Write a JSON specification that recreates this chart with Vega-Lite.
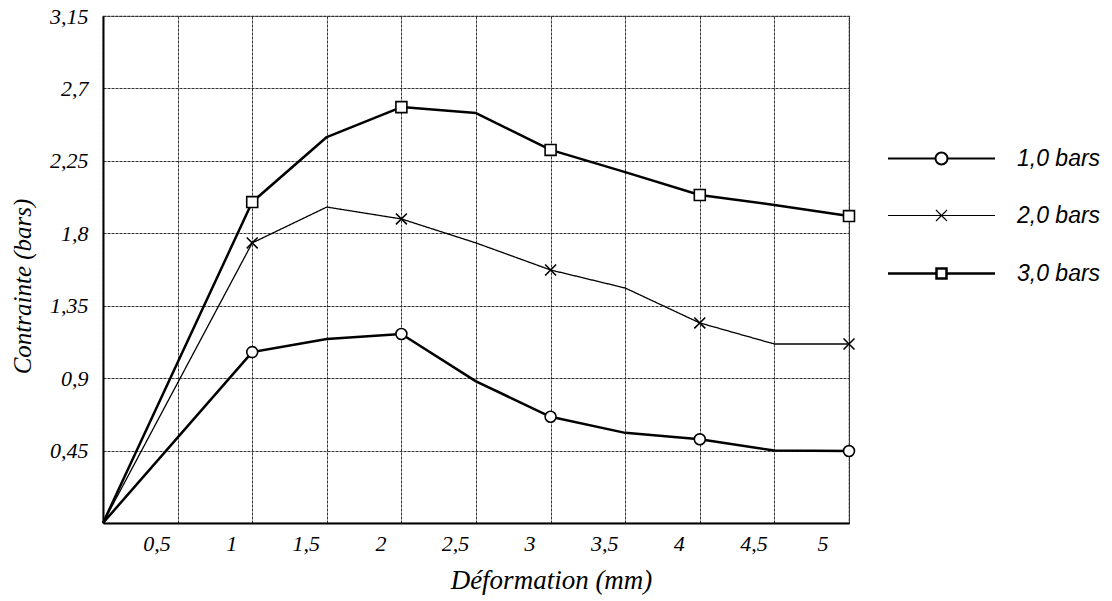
{
  "$schema": "https://vega.github.io/schema/vega-lite/v6.json",
  "width": 746,
  "height": 507,
  "autosize": {"type": "none"},
  "padding": {"left": 103, "top": 16, "right": 263, "bottom": 78},
  "background": "white",
  "config": {
    "view": {"stroke": "#333", "strokeWidth": 1.2, "strokeDash": [3, 1]},
    "legend": {
      "orient": "none",
      "legendX": 827,
      "padding": 0,
      "title": null,
      "symbolSize": 100,
      "symbolStrokeColor": "#000",
      "symbolFillColor": "white",
      "symbolOpacity": 1,
      "labelOffset": 64,
      "labelFont": "Liberation Sans",
      "labelFontStyle": "italic",
      "labelFontSize": 23,
      "labelColor": "#000"
    }
  },
  "data": {
    "values": [
      {"x": 0, "y": 0, "series": "1,0 bars"},
      {"x": 1, "y": 1.062, "series": "1,0 bars"},
      {"x": 1.5, "y": 1.143, "series": "1,0 bars"},
      {"x": 2, "y": 1.174, "series": "1,0 bars"},
      {"x": 2.5, "y": 0.88, "series": "1,0 bars"},
      {"x": 3, "y": 0.66, "series": "1,0 bars"},
      {"x": 3.5, "y": 0.56, "series": "1,0 bars"},
      {"x": 4, "y": 0.52, "series": "1,0 bars"},
      {"x": 4.5, "y": 0.45, "series": "1,0 bars"},
      {"x": 5, "y": 0.447, "series": "1,0 bars"},
      {"x": 0, "y": 0, "series": "2,0 bars"},
      {"x": 1, "y": 1.74, "series": "2,0 bars"},
      {"x": 1.5, "y": 1.963, "series": "2,0 bars"},
      {"x": 2, "y": 1.889, "series": "2,0 bars"},
      {"x": 2.5, "y": 1.74, "series": "2,0 bars"},
      {"x": 3, "y": 1.572, "series": "2,0 bars"},
      {"x": 3.5, "y": 1.46, "series": "2,0 bars"},
      {"x": 4, "y": 1.243, "series": "2,0 bars"},
      {"x": 4.5, "y": 1.112, "series": "2,0 bars"},
      {"x": 5, "y": 1.112, "series": "2,0 bars"},
      {"x": 0, "y": 0, "series": "3,0 bars"},
      {"x": 1, "y": 1.994, "series": "3,0 bars"},
      {"x": 1.5, "y": 2.398, "series": "3,0 bars"},
      {"x": 2, "y": 2.584, "series": "3,0 bars"},
      {"x": 2.5, "y": 2.547, "series": "3,0 bars"},
      {"x": 3, "y": 2.318, "series": "3,0 bars"},
      {"x": 3.5, "y": 2.18, "series": "3,0 bars"},
      {"x": 4, "y": 2.038, "series": "3,0 bars"},
      {"x": 4.5, "y": 1.976, "series": "3,0 bars"},
      {"x": 5, "y": 1.907, "series": "3,0 bars"}
    ]
  },
  "encoding": {
    "x": {
      "field": "x",
      "type": "quantitative",
      "scale": {"domain": [0, 5], "nice": false, "zero": false},
      "axis": {
        "values": [0.5, 1, 1.5, 2, 2.5, 3, 3.5, 4, 4.5, 5],
        "labelExpr": "replace(toString(datum.value), '.', ',')",
        "labelOffset": -21,
        "labelOverlap": false,
        "ticks": false,
        "domain": true,
        "domainColor": "#000",
        "domainWidth": 2,
        "grid": true,
        "gridColor": "#333",
        "gridDash": [3, 1],
        "gridWidth": 1,
        "gridOpacity": 1,
        "labelFont": "Liberation Serif",
        "labelFontStyle": "italic",
        "labelFontSize": 22,
        "labelColor": "#000",
        "labelPadding": 10,
        "title": "Déformation (mm)",
        "titleFont": "Liberation Serif",
        "titleFontStyle": "italic",
        "titleFontWeight": "normal",
        "titleFontSize": 27,
        "titleColor": "#000",
        "titleX": 448,
        "titleY": 57,
        "titleAlign": "center",
        "titleBaseline": "middle"
      }
    },
    "y": {
      "field": "y",
      "type": "quantitative",
      "scale": {"domain": [0, 3.15], "nice": false},
      "axis": {
        "values": [0.45, 0.9, 1.35, 1.8, 2.25, 2.7, 3.15],
        "labelExpr": "replace(toString(datum.value), '.', ',')",
        "labelOverlap": false,
        "ticks": false,
        "domain": true,
        "domainColor": "#000",
        "domainWidth": 2,
        "grid": true,
        "gridColor": "#333",
        "gridDash": [3, 1],
        "gridWidth": 1,
        "gridOpacity": 1,
        "labelFont": "Liberation Serif",
        "labelFontStyle": "italic",
        "labelFontSize": 22,
        "labelColor": "#000",
        "labelPadding": 15,
        "title": "Contrainte (bars)",
        "titleFont": "Liberation Serif",
        "titleFontStyle": "italic",
        "titleFontWeight": "normal",
        "titleFontSize": 25,
        "titleColor": "#000",
        "titleX": -81,
        "titleY": 270,
        "titleAngle": -90,
        "titleAlign": "center",
        "titleBaseline": "middle"
      }
    }
  },
  "layer": [
    {
      "transform": [{"filter": "datum.series === '1,0 bars'"}],
      "mark": {"type": "line", "color": "#000", "strokeWidth": 2.5, "strokeJoin": "round"},
      "encoding": {
        "opacity": {
          "field": "series",
          "type": "nominal",
          "scale": {"type": "ordinal", "domain": ["1,0 bars"], "range": [1]},
          "legend": {
            "orient": "none",
            "legendX": 827,
            "legendY": 131,
            "symbolType": "M-10.7,0L-1.2,0M1.2,0L10.7,0M-1.2,0A1.2,1.2 0 1,0 1.2,0A1.2,1.2 0 1,0 -1.2,0",
            "symbolStrokeWidth": 2
          }
        }
      }
    },
    {
      "transform": [{"filter": "datum.series === '2,0 bars'"}],
      "mark": {"type": "line", "color": "#000", "strokeWidth": 1.3, "strokeJoin": "round"},
      "encoding": {
        "strokeDash": {
          "field": "series",
          "type": "nominal",
          "scale": {"type": "ordinal", "domain": ["2,0 bars"], "range": [[1, 0]]},
          "legend": {
            "orient": "none",
            "legendX": 827,
            "legendY": 188,
            "symbolType": "M-10.7,0L10.7,0M-1.1,-1.1L1.1,1.1M-1.1,1.1L1.1,-1.1",
            "symbolStrokeWidth": 1.2
          }
        }
      }
    },
    {
      "transform": [{"filter": "datum.series === '3,0 bars'"}],
      "mark": {"type": "line", "color": "#000", "strokeJoin": "round"},
      "encoding": {
        "strokeWidth": {
          "field": "series",
          "type": "nominal",
          "scale": {"type": "ordinal", "domain": ["3,0 bars"], "range": [2.5]},
          "legend": {
            "orient": "none",
            "legendX": 827,
            "legendY": 246,
            "symbolType": "M-10.7,0L-1,0M1,0L10.7,0M-1,-1L1,-1L1,1L-1,1Z"
          }
        }
      }
    },
    {
      "transform": [{"filter": "datum.x > 0 && datum.x % 1 === 0"}],
      "mark": {
        "type": "point",
        "filled": true,
        "fill": "white",
        "stroke": "#000",
        "strokeWidth": 1.6,
        "size": 120,
        "opacity": 1
      },
      "encoding": {
        "shape": {
          "condition": [
            {"test": "datum.series === '1,0 bars'", "value": "circle"},
            {"test": "datum.series === '2,0 bars'", "value": "M-1,-1L1,1M-1,1L1,-1"}
          ],
          "value": "square"
        }
      }
    }
  ]
}
